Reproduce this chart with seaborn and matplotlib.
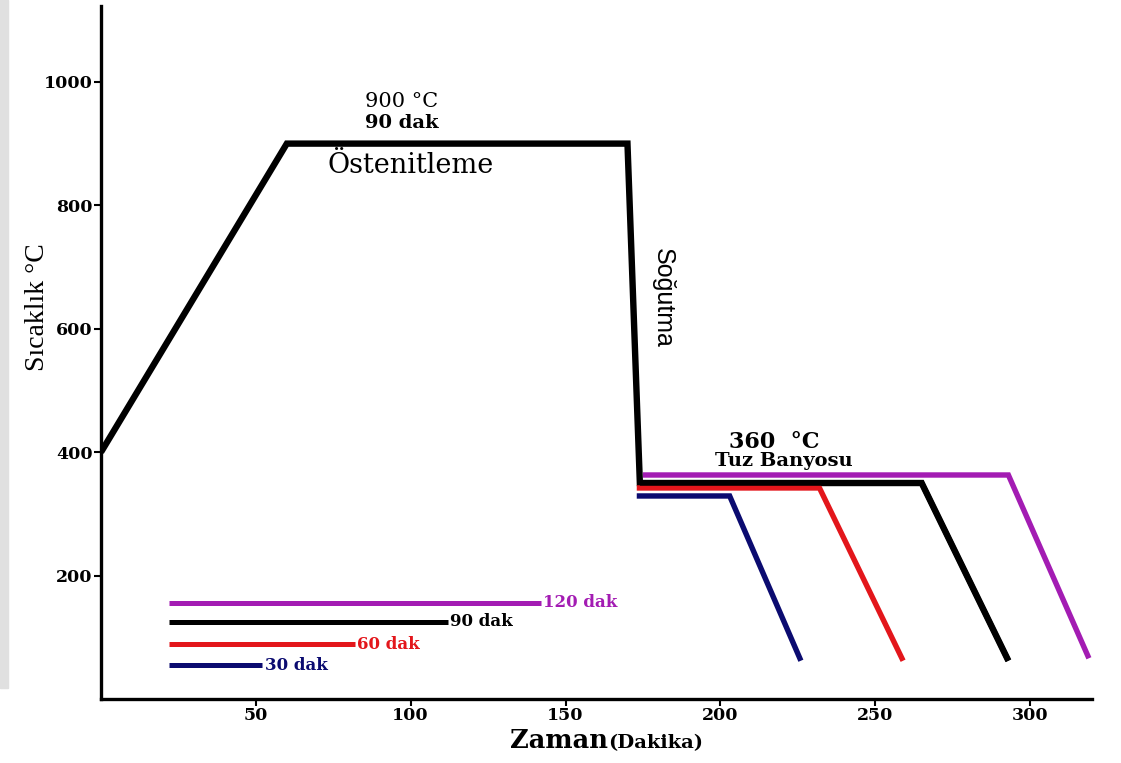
import matplotlib.pyplot as plt
import seaborn as sns
from matplotlib.patches import Rectangle

# Austenitising path (minutes, °C)
main_time = [0, 60, 170, 174, 265, 293]
main_temp = [400, 900, 900, 350, 350, 62]

# Salt bath holds
hold_labels = ['30 dak', '60 dak', '90 dak', '120 dak']
hold_minutes = [30, 60, 90, 120]
hold_colors = ['#0b0b70', '#e3161b', '#000000', '#a31cb3']
bath_start = [173, 173, 174, 175]
bath_end = [203, 232, 265, 293]
bath_temp = [329, 342, 350, 363]
cool_end_time = [226, 259, 293, 319]
cool_end_temp = [62, 62, 62, 66]

# Key bars at the lower left
key_start = 22
key_temp = [55, 89, 125, 156]

x_ticks = [50, 100, 150, 200, 250, 300]
y_ticks = [200, 400, 600, 800, 1000]

sns.set_style("ticks")
plt.rcParams['font.family'] = ['DejaVu Serif']
plt.rcParams['text.color'] = 'black'
plt.rcParams['xtick.color'] = 'black'
plt.rcParams['ytick.color'] = 'black'

fig = plt.figure(figsize=(11.21, 7.63), dpi=100)
fig.patches.append(Rectangle((0, 1 - 688 / 763), 8 / 1121, 688 / 763,
                             transform=fig.transFigure, color='#e0e0e0', zorder=0))
ax = fig.add_axes([101 / 1121, 1 - 699 / 763, (1092 - 101) / 1121, (699 - 6) / 763])

sns.lineplot(x=main_time, y=main_temp, sort=False, estimator=None, color='black',
             linewidth=4.6, ax=ax, solid_joinstyle='miter', solid_capstyle='butt')

for i in range(len(hold_minutes)):
    xs = [bath_start[i], bath_end[i], cool_end_time[i]]
    ys = [bath_temp[i], bath_temp[i], cool_end_temp[i]]
    sns.lineplot(x=xs, y=ys, sort=False, estimator=None, color=hold_colors[i],
                 linewidth=3.9, ax=ax, solid_joinstyle='miter', solid_capstyle='butt')
    # key bar, length equals the holding time
    sns.lineplot(x=[key_start, key_start + hold_minutes[i]], y=[key_temp[i], key_temp[i]],
                 sort=False, estimator=None, color=hold_colors[i], linewidth=3.6, ax=ax,
                 solid_capstyle='butt')
    ax.text(key_start + hold_minutes[i] + 0.8, key_temp[i], hold_labels[i],
            color=hold_colors[i], fontsize=12, fontweight='bold', va='center', ha='left')

# Annotations
ax.text(97, 968, '900 °C', fontsize=15, ha='center', va='center')
ax.text(97, 934, '90 dak', fontsize=14, fontweight='bold', ha='center', va='center')
ax.text(100, 864, 'Östenitleme', fontsize=19.5, ha='center', va='center')
ax.text(181.5, 650, 'Soğutma', fontsize=18, rotation=-90, ha='center', va='center',
        family=['Liberation Sans', 'DejaVu Sans'])
ax.text(217.5, 416, '360  °C', fontsize=16, fontweight='bold', ha='center', va='center')
ax.text(220.5, 385, 'Tuz Banyosu', fontsize=14, fontweight='bold', ha='center', va='center')

ax.set_xlim(0, 320)
ax.set_ylim(0, 1123)
ax.set_xticks(x_ticks)
ax.set_yticks(y_ticks)
ax.tick_params(axis='both', labelsize=12.5, width=1.5, length=5, pad=1)
for lab in ax.get_xticklabels() + ax.get_yticklabels():
    lab.set_fontweight('bold')
ax.set_xlabel('')
ax.set_ylabel('')
sns.despine(ax=ax)
for side in ['left', 'bottom']:
    ax.spines[side].set_linewidth(2.4)
    ax.spines[side].set_color('black')

fig.text(37 / 1121, 1 - 307 / 763, 'Sıcaklık °C', rotation=90, fontsize=20,
         ha='center', va='center', family=['Liberation Serif', 'DejaVu Serif'])
fig.text(608 / 1121, 1 - 748 / 763, 'Zaman', fontsize=18.5, fontweight='bold',
         ha='right', va='baseline')
fig.text(608 / 1121, 1 - 748 / 763, '(Dakika)', fontsize=14, fontweight='bold',
         ha='left', va='baseline')

fig.savefig('out.png', dpi=100)
